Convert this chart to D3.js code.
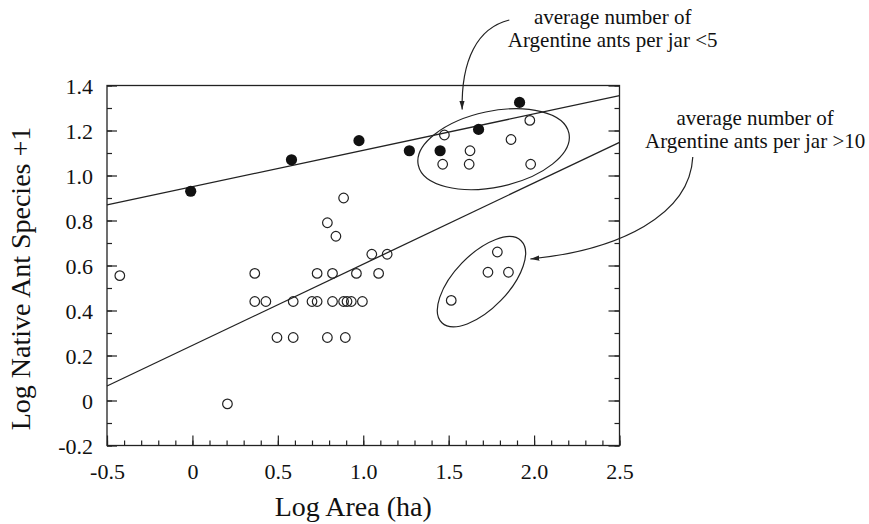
<!DOCTYPE html>
<html>
<head>
<meta charset="utf-8">
<script src="https://cdn.jsdelivr.net/npm/d3@7"></script>
<style>
  html, body { margin: 0; padding: 0; background: #fff; }
  svg { display: block; }
  svg text { font-family: "Liberation Serif", "Times New Roman", serif; fill: #111; }
</style>
</head>
<body>
<svg id="chart" width="869" height="524"></svg>
<script>
// Sites where the average number of Argentine ants per jar is low (filled dots)
// each entry: [log area (ha), log native ant species + 1]
const lowInvasionSites = [
  [-0.01, 0.93], [0.58, 1.07], [0.975, 1.155], [1.27, 1.11],
  [1.45, 1.11], [1.675, 1.205], [1.915, 1.325]
];

// Sites with open circles
const openSites = [
  // group circled near the top (<5 Argentine ants per jar)
  [1.475, 1.18], [1.465, 1.05], [1.625, 1.11], [1.62, 1.05],
  [1.865, 1.16], [1.975, 1.245], [1.98, 1.05],
  // group circled on the right (>10 Argentine ants per jar)
  [1.785, 0.66], [1.73, 0.57], [1.85, 0.57], [1.515, 0.445],
  // remaining sites
  [-0.425, 0.555], [0.205, -0.015],
  [0.365, 0.565], [0.365, 0.44], [0.43, 0.44],
  [0.495, 0.28], [0.59, 0.44], [0.59, 0.28],
  [0.70, 0.44], [0.73, 0.44], [0.73, 0.565],
  [0.79, 0.28], [0.82, 0.44], [0.82, 0.565],
  [0.79, 0.79], [0.84, 0.73], [0.885, 0.90],
  [0.885, 0.44], [0.905, 0.44], [0.93, 0.44], [0.995, 0.44],
  [0.895, 0.28], [0.96, 0.565], [1.09, 0.565],
  [1.05, 0.65], [1.14, 0.65]
];

// Regression lines: [intercept, slope]
const fitLowInvasion = [0.95, 0.162];
const fitAll = [0.245, 0.361];

// Axis ticks
const xTicks = [-0.5, 0, 0.5, 1.0, 1.5, 2.0, 2.5];
const xTickLabels = ["-0.5", "0", "0.5", "1.0", "1.5", "2.0", "2.5"];
const yTicks = [-0.2, 0, 0.2, 0.4, 0.6, 0.8, 1.0, 1.2, 1.4];
const yTickLabels = ["-0.2", "0", "0.2", "0.4", "0.6", "0.8", "1.0", "1.2", "1.4"];

// Annotation anchors, in data units
const ringTop = [1.763, 1.117];
const ringRight = [1.692, 0.528];
const arrowTop = [[1.855, 1.691], [1.667, 1.656], [1.573, 1.513], [1.579, 1.293]];
const arrowRight = [[2.929, 1.082], [2.912, 0.824], [2.501, 0.669], [1.978, 0.629]];
const noteTopAnchor = [2.46, 1.673];
const noteRightAnchor = [3.294, 1.224];
const noteTopLines = ["average number of", "Argentine ants per jar <5"];
const noteRightLines = ["average number of", "Argentine ants per jar >10"];

const ink = "#222";
const serif = '"Liberation Serif", "Times New Roman", serif';
const svg = d3.select("#chart");

const x = d3.scaleLinear().domain([-0.5, 2.5]).range([107, 619.5]);
const y = d3.scaleLinear().domain([-0.2, 1.4]).range([445.5, 85.5]);

const [x0, x1] = x.range();
const [y0, y1] = y.range();

// minor tick positions every 0.1
const xMinor = d3.range(-5, 26).map(i => i / 10);
const yMinor = d3.range(-2, 15).map(i => i / 10);

const styleLabels = g => g.selectAll("text")
  .style("font-family", serif).style("font-size", "22px").style("fill", "#111");

// left axis (ticks pointing inward)
svg.append("g").attr("transform", `translate(${x0},0)`)
  .call(d3.axisLeft(y).tickValues(yMinor).tickSize(-5).tickFormat(""))
  .call(g => g.select(".domain").remove());
svg.append("g").attr("transform", `translate(${x0},0)`)
  .call(d3.axisLeft(y).tickValues(yTicks).tickSize(-10).tickPadding(14)
    .tickFormat((d, i) => yTickLabels[i]))
  .call(g => g.select(".domain").remove())
  .call(styleLabels)
  .call(g => g.selectAll("text").attr("dy", "0.36em"));

// right axis
svg.append("g").attr("transform", `translate(${x1},0)`)
  .call(d3.axisRight(y).tickValues(yMinor).tickSize(-5).tickFormat(""))
  .call(g => g.select(".domain").remove());
svg.append("g").attr("transform", `translate(${x1},0)`)
  .call(d3.axisRight(y).tickValues(yTicks).tickSize(-11).tickFormat(""))
  .call(g => g.select(".domain").remove());

// bottom axis
svg.append("g").attr("transform", `translate(0,${y0})`)
  .call(d3.axisBottom(x).tickValues(xMinor).tickSize(-5).tickFormat(""))
  .call(g => g.select(".domain").remove());
svg.append("g").attr("transform", `translate(0,${y0})`)
  .call(d3.axisBottom(x).tickValues(xTicks).tickSize(-10).tickPadding(18)
    .tickFormat((d, i) => xTickLabels[i]))
  .call(g => g.select(".domain").remove())
  .call(styleLabels);

svg.selectAll(".tick line").attr("stroke", ink).attr("stroke-width", 1.2);

// plot frame
svg.append("rect")
  .attr("x", x0).attr("y", y1)
  .attr("width", x1 - x0).attr("height", y0 - y1)
  .attr("fill", "none").attr("stroke", ink).attr("stroke-width", 1.3);

// regression lines across the full x range
const fitLine = ([b, m]) => d3.line()(x.domain().map(v => [x(v), y(b + m * v)]));
svg.append("path").attr("d", fitLine(fitLowInvasion))
  .attr("fill", "none").attr("stroke", ink).attr("stroke-width", 1.3);
svg.append("path").attr("d", fitLine(fitAll))
  .attr("fill", "none").attr("stroke", ink).attr("stroke-width", 1.3);

// open circles
svg.append("g").selectAll("circle").data(openSites).join("circle")
  .attr("cx", d => x(d[0])).attr("cy", d => y(d[1])).attr("r", 4.8)
  .attr("fill", "none").attr("stroke", ink).attr("stroke-width", 1.2);

// filled dots
svg.append("g").selectAll("circle").data(lowInvasionSites).join("circle")
  .attr("cx", d => x(d[0])).attr("cy", d => y(d[1])).attr("r", 5.6)
  .attr("fill", "#111");

// rings around the two groups
const ring = (c, rx, ry, angle) => {
  const cx = x(c[0]), cy = y(c[1]);
  svg.append("ellipse")
    .attr("cx", cx).attr("cy", cy).attr("rx", rx).attr("ry", ry)
    .attr("transform", `rotate(${angle},${cx},${cy})`)
    .attr("fill", "none").attr("stroke", ink).attr("stroke-width", 1.2);
};
ring(ringTop, 77, 38, -12);
ring(ringRight, 57, 27, -46);

// arrow heads
svg.append("defs").append("marker")
  .attr("id", "arrowhead")
  .attr("viewBox", "0 0 10 6")
  .attr("refX", 10).attr("refY", 3)
  .attr("markerWidth", 9).attr("markerHeight", 6)
  .attr("markerUnits", "userSpaceOnUse")
  .attr("orient", "auto")
  .append("path").attr("d", "M0,0 L10,3 L0,6 Z").attr("fill", ink);

const curve = pts => {
  const p = pts.map(d => [x(d[0]), y(d[1])]);
  return `M${p[0]}C${p[1]} ${p[2]} ${p[3]}`;
};
[arrowTop, arrowRight].forEach(pts => {
  svg.append("path").attr("d", curve(pts))
    .attr("fill", "none").attr("stroke", ink).attr("stroke-width", 1.2)
    .attr("marker-end", "url(#arrowhead)");
});

// notes
const note = (anchor, lines) => {
  const t = svg.append("text")
    .attr("x", x(anchor[0])).attr("y", y(anchor[1]))
    .attr("text-anchor", "middle")
    .style("font-family", serif).style("font-size", "21px");
  lines.forEach((s, i) => {
    t.append("tspan").attr("x", x(anchor[0])).attr("dy", i === 0 ? 0 : 23).text(s);
  });
};
note(noteTopAnchor, noteTopLines);
note(noteRightAnchor, noteRightLines);

// axis titles
svg.append("text")
  .attr("x", (x0 + x1) / 2 - 10).attr("y", 516)
  .attr("text-anchor", "middle")
  .style("font-family", serif).style("font-size", "28px")
  .text("Log Area (ha)");
svg.append("text")
  .attr("transform", `translate(30,${(y0 + y1) / 2 + 13}) rotate(-90)`)
  .attr("text-anchor", "middle")
  .style("font-family", serif).style("font-size", "28px")
  .text("Log Native Ant Species +1");
</script>
</body>
</html>
